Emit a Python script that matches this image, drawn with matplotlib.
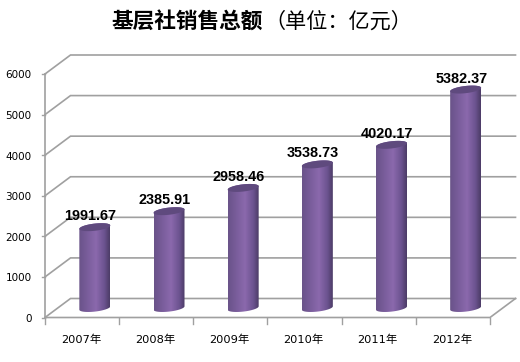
import numpy as np
import matplotlib
matplotlib.use("Agg")
import matplotlib.pyplot as plt
from matplotlib.colors import LinearSegmentedColormap
from matplotlib.patches import Polygon

categories = ["2007年", "2008年", "2009年", "2010年", "2011年", "2012年"]
values = [1991.67, 2385.91, 2958.46, 3538.73, 4020.17, 5382.37]
y_ticks = [0, 1000, 2000, 3000, 4000, 5000, 6000]
title_main = "基层社销售总额"
title_unit = "（单位：亿元）"

W, H = 520, 362
FONT = ["DejaVu Sans", "Noto Sans CJK SC"]
fig = plt.figure(figsize=(W / 100, H / 100), dpi=100, facecolor="white")
L, R, T, B = 45, 490, 74, 317.5
ax = fig.add_axes([L / W, 1 - B / H, (R - L) / W, (B - T) / H])
ax.set_xlim(-0.5, 5.5)
ax.set_ylim(0, 6000)
ax.axis("off")

px_x = 6 / (R - L)            # data units per pixel, x
px_y = 6000 / (B - T)         # data units per pixel, y
DX, DY = 25.5 * px_x, 19 * px_y   # 3-D depth offset
GRID = "#a0a0a0"
x0, x1 = -0.5, 5.5

# wall gridlines
for v in y_ticks:
    ax.plot([x0, x0 + DX, x1 + DX], [v, v + DY, v + DY], color=GRID, lw=1.2,
            clip_on=False, zorder=1, solid_joinstyle="miter")
# floor / axes
ax.plot([x0, x1, x1 + DX], [0, 0, DY], color=GRID, lw=1.2, clip_on=False, zorder=1)
ax.plot([x0, x0], [0, 6000], color=GRID, lw=1.2, clip_on=False, zorder=1)
for v in y_ticks:
    ax.plot([x0 - 3 * px_x, x0], [v, v], color=GRID, lw=1, clip_on=False, zorder=1)
for i in range(7):
    ax.plot([x0 + i, x0 + i], [0, -6 * px_y], color=GRID, lw=1, clip_on=False, zorder=1)

# cylinders
cmap = LinearSegmentedColormap.from_list(
    "cyl", [(0, "#6a5488"), (0.10, "#6f5690"), (0.55, "#8b69ad"),
            (0.82, "#6c5390"), (1, "#4c3c66")])
grad = np.linspace(0, 1, 128).reshape(1, -1)
t = np.linspace(0, 2 * np.pi, 120)
a = 15.5 * px_x
b = 3.6 * px_y
tilt = 1.7 * px_y
base_dx, base_dy = DX / 2, DY / 2


def ellipse(cx, cy, tt):
    return cx + a * np.cos(tt), cy + b * np.sin(tt) + tilt * np.cos(tt)


for i, v in enumerate(values):
    cx = i + base_dx
    tb = np.linspace(np.pi, 2 * np.pi, 60)
    xb, yb = ellipse(cx, base_dy, tb)
    tp = np.linspace(0, np.pi, 60)
    xt, yt = ellipse(cx, v + base_dy, tp)
    verts = np.column_stack([np.r_[xb, xt], np.r_[yb, yt]])
    body = Polygon(verts, closed=True, transform=ax.transData, fc="none", ec="none")
    ax.add_patch(body)
    im = ax.imshow(grad, cmap=cmap, aspect="auto", zorder=3,
                   extent=[cx - a, cx + a, base_dy - 6 * px_y, v + base_dy + 6 * px_y],
                   clip_on=True)
    im.set_clip_path(body)
    xc, yc = ellipse(cx, v + base_dy, t)
    ax.fill(xc, yc, color="#5f4a7e", zorder=4, clip_on=False, lw=0)
    ax.text(cx - 4.5 * px_x, v + base_dy + 4 * px_y, f"{v:.2f}", ha="center", va="bottom",
            family="Liberation Sans", weight="bold", fontsize=10.4, color="black",
            zorder=6, clip_on=False)

ax.set_xlim(-0.5, 5.5)
ax.set_ylim(0, 6000)

# tick labels
for v in y_ticks:
    ax.text(x0 - 13.5 * px_x, v - 1.5 * px_y, str(v), ha="right", va="center", fontsize=7.5,
            family="DejaVu Sans", color="black", clip_on=False)
for i, c in enumerate(categories):
    ax.text(i - 1 * px_x, -22.5 * px_y, c, ha="center", va="center", fontsize=8.2,
            family=FONT, color="black", clip_on=False)

fig.text(187 / W, 1 - 22 / H, title_main, ha="center", va="center",
         family="Noto Sans CJK SC", weight="bold", fontsize=15.6)
fig.text(338 / W, 1 - 22 / H, title_unit, ha="center", va="center",
         family="Noto Sans CJK SC", fontsize=15.2)

fig.savefig("out.png", dpi=100, facecolor="white")
